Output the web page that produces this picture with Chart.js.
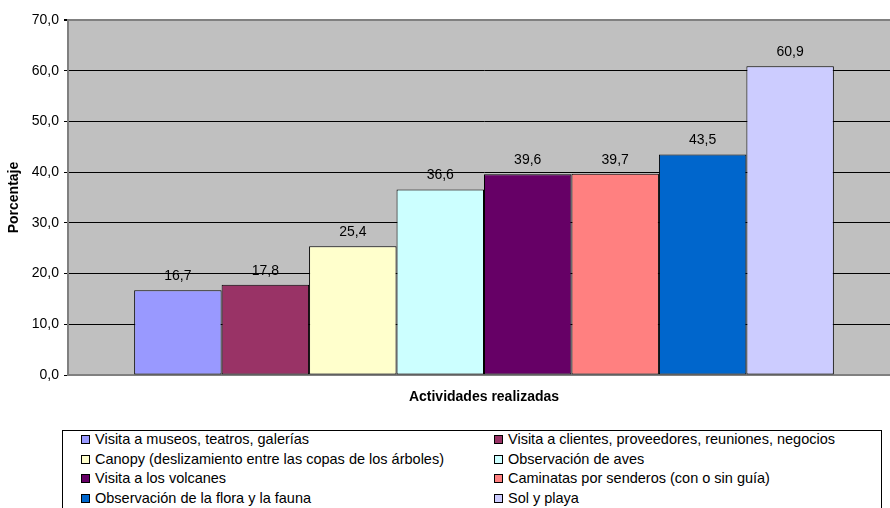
<!DOCTYPE html>
<html>
<head>
<meta charset="utf-8">
<script src="https://cdn.jsdelivr.net/npm/chart.js@4.4.1/dist/chart.umd.min.js"></script>
<style>
  html, body { margin: 0; padding: 0; background: #ffffff; overflow: hidden; }
  #wrap { position: relative; width: 890px; height: 508px; overflow: hidden; font-family: 'Liberation Sans', Arial, sans-serif; }
  #chartBox { position: absolute; left: 0; top: 0; width: 900px; height: 428px; }
  #legend { position: absolute; left: 62px; top: 430px; width: 820px; height: 82px; border: 1px solid #000; box-sizing: border-box; font-size: 14.5px; color: #000; }
  .item { position: absolute; height: 17px; line-height: 17px; white-space: nowrap; }
  .sw { position: absolute; left: 0; top: 4px; width: 7px; height: 7px; border: 1px solid #000; }
  .lbl { position: absolute; left: 14px; top: 0; }
</style>
</head>
<body>
<div id="wrap">
  <div id="chartBox"><canvas id="c"></canvas></div>
  <div id="legend"></div>
</div>
<script>
const categories = ['Actividades realizadas'];
const seriesNames = [
  'Visita a museos, teatros, galerías',
  'Visita a clientes, proveedores, reuniones, negocios',
  'Canopy (deslizamiento entre las copas de los árboles)',
  'Observación de aves',
  'Visita a los volcanes',
  'Caminatas por senderos (con o sin guía)',
  'Observación de la flora y la fauna',
  'Sol y playa'
];
const seriesValues = [16.7, 17.8, 25.4, 36.6, 39.6, 39.7, 43.5, 60.9];
const seriesColors = ['#9999FF', '#993366', '#FFFFCC', '#CCFFFF', '#660066', '#FF8080', '#0066CC', '#CCCCFF'];
const yTicks = [0, 10, 20, 30, 40, 50, 60, 70];

const fmt = v => v.toFixed(1).replace('.', ',');
const FONT = "'Liberation Sans', Arial, sans-serif";

const datasets = seriesNames.map((name, i) => ({
  label: name,
  data: [seriesValues[i]],
  backgroundColor: seriesColors[i],
  borderColor: '#000000',
  borderWidth: 1,
  borderSkipped: false,
  barPercentage: 1.0,
  categoryPercentage: 0.841
}));

const bgPlugin = {
  id: 'plotBg',
  beforeDraw(chart) {
    const {ctx, chartArea: a} = chart;
    ctx.save();
    ctx.fillStyle = '#C0C0C0';
    ctx.fillRect(a.left, a.top, a.right - a.left, a.bottom - a.top);
    ctx.restore();
  }
};

const labelPlugin = {
  id: 'valueLabels',
  afterDatasetsDraw(chart) {
    const ctx = chart.ctx;
    ctx.save();
    ctx.font = '14px ' + FONT;
    ctx.fillStyle = '#000000';
    ctx.textAlign = 'center';
    ctx.textBaseline = 'middle';
    chart.data.datasets.forEach((ds, i) => {
      const meta = chart.getDatasetMeta(i);
      meta.data.forEach((bar, j) => {
        ctx.fillText(fmt(ds.data[j]), bar.x, bar.y - 14);
      });
    });
    ctx.restore();
  }
};

new Chart(document.getElementById('c'), {
  type: 'bar',
  data: { labels: categories, datasets },
  plugins: [bgPlugin, labelPlugin],
  options: {
    responsive: true,
    maintainAspectRatio: false,
    animation: false,
    layout: { padding: { top: 20, right: 0, left: 0, bottom: 0 } },
    plugins: { legend: { display: false }, tooltip: { enabled: false } },
    scales: {
      x: {
        grid: { display: false },
        ticks: { display: false },
        border: { display: true, color: '#808080', width: 2 },
        title: { display: true, text: 'Actividades realizadas', color: '#000', font: { family: FONT, size: 14, weight: 'bold' }, padding: { top: 0, bottom: 22 } },
        afterFit(scale) { scale.height = 53; }
      },
      y: {
        min: 0, max: 70,
        afterBuildTicks(scale) { scale.ticks = yTicks.map(v => ({ value: v })); },
        ticks: { callback: v => fmt(v), color: '#000', font: { family: FONT, size: 14 }, padding: 5 },
        grid: {
          color: ctx => (ctx.tick && (ctx.tick.value === 70 || ctx.tick.value === 0)) ? '#808080' : '#000000',
          lineWidth: ctx => (ctx.tick && ctx.tick.value === 70) ? 2 : 1,
          tickColor: '#000000',
          tickLength: 4
        },
        border: { display: true, color: '#808080', width: 2 },
        title: { display: true, text: 'Porcentaje', color: '#000', font: { family: FONT, size: 14, weight: 'bold' }, padding: { top: 6, bottom: 0 } },
        afterFit(scale) { scale.width = 68; }
      }
    }
  }
});

// HTML legend, two columns
const legend = document.getElementById('legend');
const colX = [18, 431];
const rowY = [0, 19.5, 39, 58.5];
seriesNames.forEach((name, i) => {
  const it = document.createElement('div');
  it.className = 'item';
  it.style.left = colX[i % 2] + 'px';
  it.style.top = rowY[Math.floor(i / 2)] + 'px';
  const sw = document.createElement('span');
  sw.className = 'sw';
  sw.style.background = seriesColors[i];
  const lb = document.createElement('span');
  lb.className = 'lbl';
  lb.textContent = name;
  it.appendChild(sw); it.appendChild(lb);
  legend.appendChild(it);
});
</script>
</body>
</html>
